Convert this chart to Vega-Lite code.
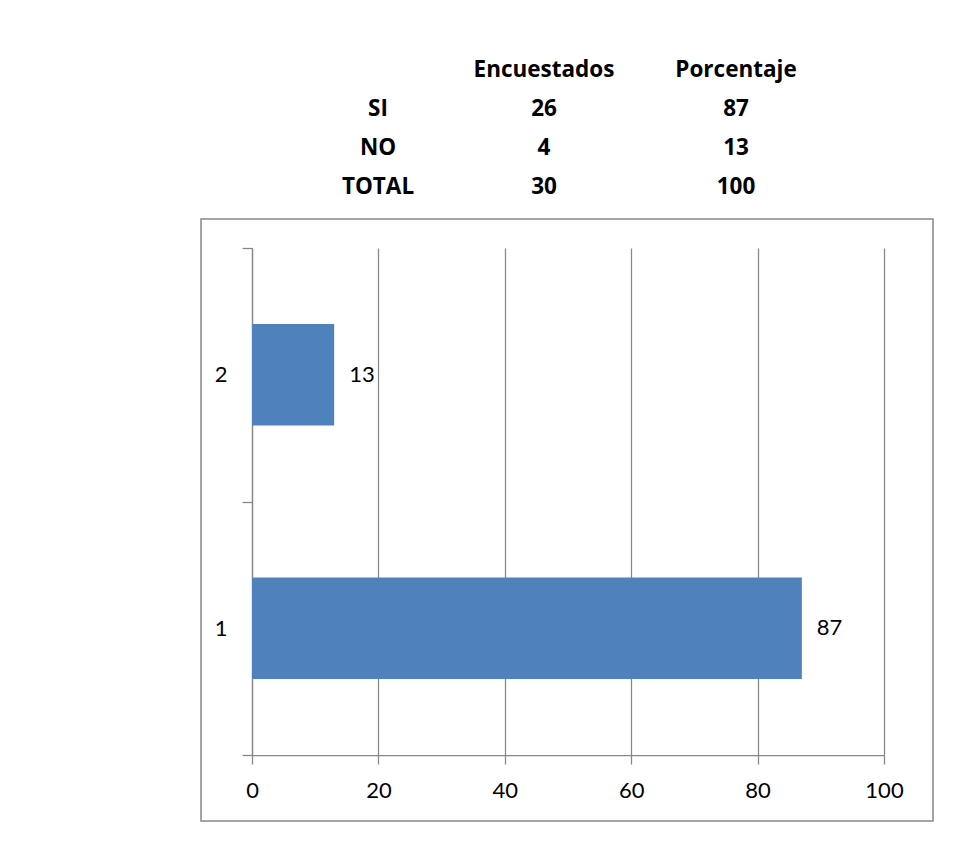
{
  "$schema": "https://vega.github.io/schema/vega-lite/v6.json",
  "background": "white",
  "padding": {"left": 200, "top": 0, "right": 0, "bottom": 0},
  "autosize": {"type": "pad"},
  "spacing": 0,
  "config": {"font": "Lato", "view": {"stroke": null}},
  "datasets": {
    "tabla": [
      {"fila": "encabezado", "columna": "Encuestados", "texto": "Encuestados"},
      {"fila": "encabezado", "columna": "Porcentaje", "texto": "Porcentaje"},
      {"fila": "SI", "columna": "Respuesta", "texto": "SI"},
      {"fila": "SI", "columna": "Encuestados", "texto": "26"},
      {"fila": "SI", "columna": "Porcentaje", "texto": "87"},
      {"fila": "NO", "columna": "Respuesta", "texto": "NO"},
      {"fila": "NO", "columna": "Encuestados", "texto": "4"},
      {"fila": "NO", "columna": "Porcentaje", "texto": "13"},
      {"fila": "TOTAL", "columna": "Respuesta", "texto": "TOTAL"},
      {"fila": "TOTAL", "columna": "Encuestados", "texto": "30"},
      {"fila": "TOTAL", "columna": "Porcentaje", "texto": "100"}
    ],
    "grafico": [
      {"Respuesta": "1", "Porcentaje": 87},
      {"Respuesta": "2", "Porcentaje": 13}
    ]
  },
  "vconcat": [
    {
      "width": 732,
      "height": 207,
      "data": {"name": "tabla"},
      "encoding": {
        "x": {"field": "columna", "type": "nominal", "scale": {"type": "point", "domain": ["Respuesta", "Encuestados", "Porcentaje"], "range": [177, 535], "padding": 0}, "axis": null},
        "y": {"field": "fila", "type": "nominal", "scale": {"type": "point", "domain": ["encabezado", "SI", "NO", "TOTAL"], "range": [70, 187], "padding": 0}, "axis": null},
        "text": {"field": "texto", "type": "nominal"}
      },
      "layer": [
        {
          "transform": [{"filter": "datum.columna !== 'Encuestados'"}],
          "mark": {"type": "text", "font": "Open Sans", "fontWeight": "bold", "fontSize": 22.5, "baseline": "middle", "color": "#000000"}
        },
        {
          "transform": [{"filter": "datum.columna === 'Encuestados'"}],
          "mark": {"type": "text", "font": "Open Sans", "fontWeight": "bold", "fontSize": 22.5, "baseline": "middle", "color": "#000000", "dx": -13}
        }
      ]
    },
    {
      "width": 732,
      "height": 602,
      "data": {"name": "grafico"},
      "view": {"stroke": "#878787", "strokeWidth": 1.5},
      "encoding": {
        "y": {
          "field": "Respuesta", "type": "nominal", "sort": ["2", "1"],
          "scale": {"range": [29, 536], "paddingInner": 0, "paddingOuter": 0},
          "axis": {"orient": "left", "offset": -51, "title": null, "grid": false, "tickBand": "extent", "tickSize": 10, "tickColor": "#878787", "tickWidth": 1.25, "domainColor": "#878787", "domainWidth": 1.25, "labelFont": "Lato", "labelFontSize": 22, "labelColor": "#000000", "labelPadding": 15}
        }
      },
      "layer": [
        {
          "mark": {"type": "bar", "color": "#4F81BD", "height": {"band": 0.4}},
          "encoding": {
            "x": {
              "field": "Porcentaje", "type": "quantitative",
              "scale": {"domain": [0, 100], "range": [51, 683], "nice": false},
              "axis": {"orient": "bottom", "offset": -66, "values": [0, 20, 40, 60, 80, 100], "grid": false, "title": null, "labelFlush": false, "tickSize": 9, "tickColor": "#878787", "tickWidth": 1.25, "domainColor": "#878787", "domainWidth": 1.25, "labelFont": "Lato", "labelFontSize": 22, "labelColor": "#000000", "labelPadding": 16}
            }
          }
        },
        {
          "mark": {"type": "text", "align": "left", "baseline": "middle", "dx": 15, "fontSize": 22, "font": "Lato", "color": "#000000"},
          "encoding": {
            "x": {
              "field": "Porcentaje", "type": "quantitative",
              "axis": {"orient": "top", "values": [0, 20, 40, 60, 80, 100], "grid": true, "gridColor": "#878787", "gridWidth": 1.25, "labels": false, "ticks": false, "domain": false, "title": null}
            },
            "text": {"field": "Porcentaje", "type": "quantitative"}
          }
        }
      ],
      "resolve": {"axis": {"x": "independent"}}
    }
  ]
}
